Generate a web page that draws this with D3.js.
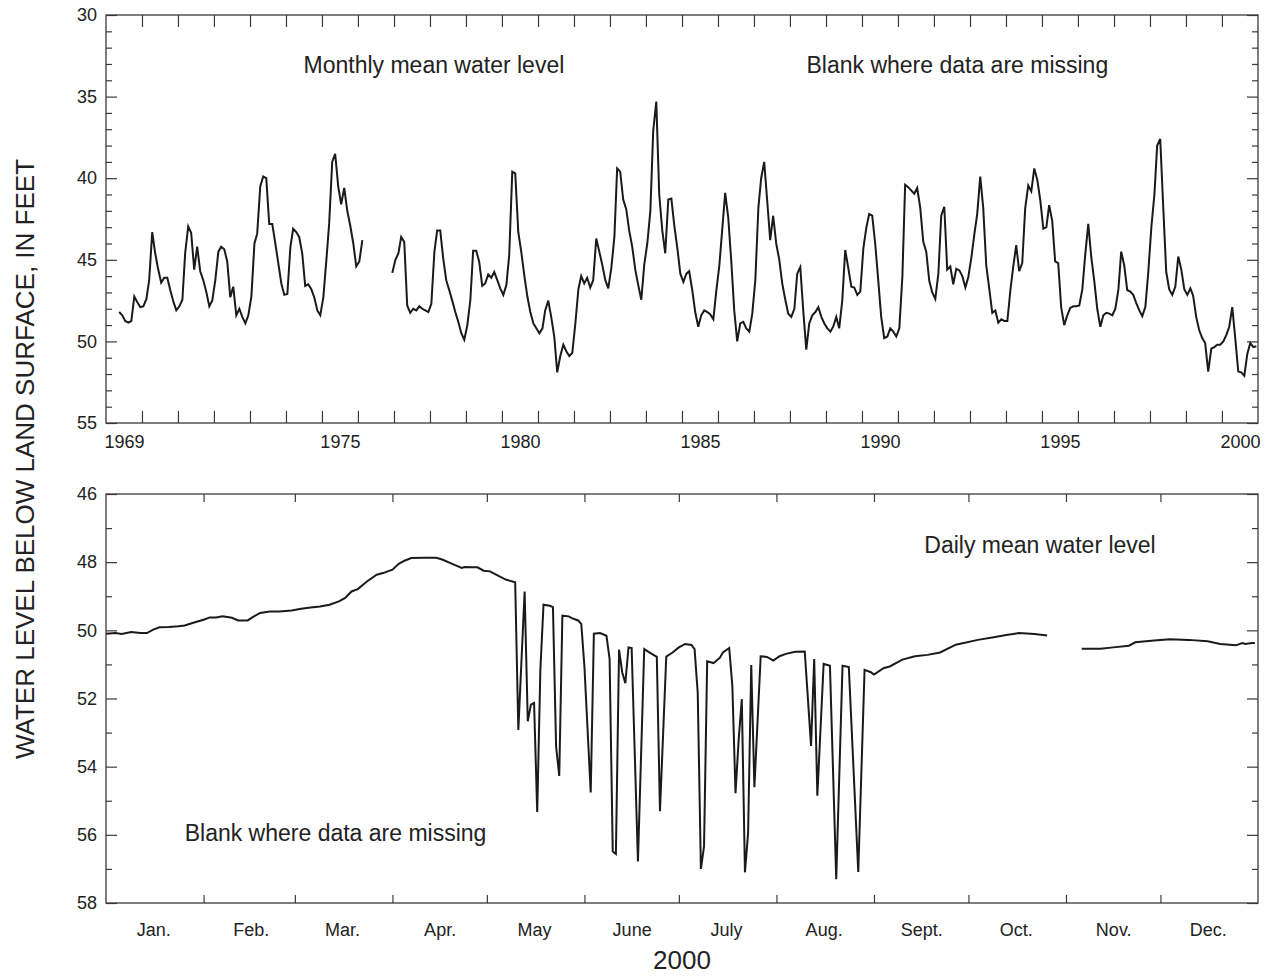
<!DOCTYPE html>
<html lang="en">

<head>
    <meta charset="UTF-8">
    <title>Water level below land surface</title>
    <script src="https://d3js.org/d3.v7.min.js"></script>
    <style>
        body {
            margin: 0;
            background: #fff;
            font-family: "Liberation Sans", Arial, sans-serif;
        }

        .frame {
            fill: none;
            stroke: #3a3a3a;
            stroke-width: 1.3;
        }

        .tick line {
            stroke: #3a3a3a;
            stroke-width: 1.2;
        }

        .tick text {
            fill: #222;
            font-size: 18px;
            font-family: "Liberation Sans", Arial, sans-serif;
        }

        .series {
            fill: none;
            stroke: #1a1a1a;
            stroke-width: 2;
        }

        .note {
            fill: #222;
            font-size: 23px;
        }

        .title {
            fill: #222;
            font-size: 26px;
        }
    </style>
</head>

<body>
    <div id="chart"></div>

    <script>
        // tick labels
        const yearLabels = [1969, 1975, 1980, 1985, 1990, 1995, 2000];
        const monthLabels = ['Jan.', 'Feb.', 'Mar.', 'Apr.', 'May', 'June', 'July', 'Aug.', 'Sept.', 'Oct.', 'Nov.', 'Dec.'];

        // monthly mean water level, feet below land surface, first value = May 1969
        const monthlyStart = [1969, 4];
        const monthlyLevels = [
            48.2, 48.4, 48.75, 48.85, 48.75, 47.25, 47.6, 47.9,
            47.85, 47.4, 46.25, 43.3, 44.6, 45.6, 46.4, 46.1, 46.1, 46.85, 47.55, 48.1,
            47.85, 47.45, 44.6, 42.95, 43.35, 45.6, 44.2, 45.7, 46.25, 46.95, 47.85, 47.5,
            46.25, 44.5, 44.2, 44.35, 45.1, 47.3, 46.65, 48.4, 48.0, 48.5, 48.9, 48.4,
            47.25, 44.0, 43.4, 40.5, 39.9, 40.0, 42.8, 42.8, 44.0, 45.2, 46.45, 47.15,
            47.1, 44.2, 43.1, 43.3, 43.6, 44.6, 46.6, 46.5, 46.8, 47.3, 48.1, 48.4,
            47.3, 45.0, 42.8, 39.0, 38.5, 40.5, 41.6, 40.6, 42.0, 42.9, 44.0, 45.4,
            45.1, 43.8, null, null, null, null, null, null, null, null, null, 45.8,
            45.0, 44.6, 43.6, 43.9, 47.8, 48.25, 48.0, 48.1, 47.85, 48.0, 48.1, 48.2,
            47.7, 44.5, 43.2, 43.2, 44.9, 46.25, 46.85, 47.5, 48.2, 48.8, 49.5, 49.9,
            49.0, 47.45, 44.45, 44.45, 45.1, 46.6, 46.45, 45.9, 46.1, 45.75, 46.25, 46.75,
            47.15, 46.55, 44.7, 39.6, 39.7, 43.3, 44.5, 45.95, 47.25, 48.2, 48.9, 49.2,
            49.5, 49.2, 48.1, 47.5, 48.5, 49.7, 51.9, 50.9, 50.2, 50.6, 50.9, 50.7,
            48.9, 46.8, 46.0, 46.45, 46.1, 46.7, 46.25, 43.7, 44.5, 45.3, 46.25, 46.75,
            45.5, 43.6, 39.4, 39.6, 41.3, 41.9, 43.2, 44.2, 45.6, 46.55, 47.45, 45.3,
            44.0, 42.0, 37.1, 35.3, 41.0, 43.2, 44.6, 41.3, 41.25, 42.9, 44.3, 45.85,
            46.35, 45.85, 45.7, 46.85, 48.2, 49.1, 48.4, 48.1, 48.2, 48.35, 48.65, 46.9,
            45.35, 43.0, 40.9, 42.4, 45.0, 48.1, 50.0, 48.9, 48.8, 49.2, 49.4, 48.3,
            46.25, 41.8, 40.0, 39.0, 41.35, 43.8, 42.3, 44.0, 45.0, 46.45, 47.45, 48.3,
            48.5, 48.0, 45.85, 45.45, 48.1, 50.5, 48.9, 48.4, 48.2, 47.9, 48.5, 48.9,
            49.2, 49.4, 49.1, 48.5, 49.2, 47.5, 44.4, 45.5, 46.65, 46.7, 47.15, 46.95,
            44.3, 43.0, 42.2, 42.3, 44.0, 46.25, 48.5, 49.8, 49.7, 49.2, 49.4, 49.7,
            49.2, 46.0, 40.4, 40.55, 40.75, 40.95, 40.6, 41.8, 43.9, 44.5, 46.3, 47.0,
            47.4, 45.85, 42.3, 41.75, 45.6, 45.4, 46.5, 45.55, 45.65, 46.0, 46.7, 46.05,
            44.85, 43.4, 42.2, 39.9, 41.8, 45.35, 46.75, 48.25, 48.1, 48.85, 48.65, 48.75,
            48.75, 46.85, 45.45, 44.1, 45.7, 45.2, 41.85, 40.45, 40.8, 39.4, 40.1, 41.35,
            43.1, 43.0, 41.65, 42.6, 45.1, 45.2, 47.9, 49.0, 48.4, 47.95, 47.85, 47.85,
            47.8, 46.8, 44.7, 42.8, 44.8, 46.3, 48.0, 49.1, 48.4, 48.25, 48.3, 48.4,
            48.0, 46.8, 44.5, 45.35, 46.85, 46.95, 47.15, 47.65, 48.1, 48.45, 47.9, 45.75,
            43.0, 41.0, 38.0, 37.6, 41.7, 45.75, 46.8, 47.15, 46.65, 44.8, 45.6, 46.8,
            47.15, 46.75, 47.2, 48.5, 49.3, 49.8, 50.1, 51.85, 50.45, 50.35, 50.2, 50.2,
            50.0, 49.6, 49.1, 47.9, 49.8, 51.85, 51.9, 52.1, 50.75, 50.1, 50.35, 50.3
        ];

        // daily mean water level in 2000: day of year and level (null = missing)
        const dailyDayOfYear = [
            1, 4, 6, 9, 12, 14, 16, 18, 21, 24, 26, 29, 32, 34, 36, 38, 41, 43, 46, 48,
            50, 53, 56, 60, 63, 66, 69, 72, 75, 77, 79, 81, 84, 87, 89, 92, 94, 96, 98, 102,
            106, 108, 111, 114, 115, 117, 119, 121, 123, 126, 128, 131, 132, 134, 135, 136, 137, 138, 139, 140,
            142, 143, 144, 145, 146, 148, 149, 151, 152, 153, 155, 156, 158, 160, 161, 162, 163, 164, 165, 166,
            167, 168, 170, 172, 174, 176, 177, 179, 181, 183, 185, 187, 188, 189, 190, 191, 192, 194, 196, 197,
            199, 200, 201, 202, 203, 204, 205, 206, 207, 209, 211, 213, 215, 217, 220, 223, 225, 226, 227, 229,
            231, 233, 235, 237, 240, 242, 244, 245, 248, 250, 253, 254, 258, 262, 266, 271, 278, 283, 287, 291,
            296, 300, 305, 311, 317, 321, 326, 328, 334, 339, 345, 351, 355, 360, 362, 363, 365, 366
        ];
        const dailyLevels = [
            50.10, 50.08, 50.11, 50.05, 50.08, 50.08, 49.98, 49.91, 49.90, 49.88, 49.86, 49.77, 49.69, 49.62, 49.62, 49.59, 49.63, 49.71, 49.71, 49.59,
            49.49, 49.45, 49.45, 49.42, 49.37, 49.33, 49.30, 49.25, 49.15, 49.05, 48.86, 48.79, 48.56, 48.37, 48.32, 48.22, 48.05, 47.95, 47.88, 47.87,
            47.87, 47.93, 48.05, 48.17, 48.14, 48.15, 48.15, 48.25, 48.27, 48.42, 48.51, 48.59, 52.92, 48.86, 52.67, 52.18, 52.13, 55.33, 51.16, 49.25,
            49.28, 49.32, 53.41, 54.27, 49.57, 49.59, 49.64, 49.71, 49.81, 51.06, 54.76, 50.10, 50.08, 50.16, 50.84, 56.49, 56.56, 50.57, 51.23, 51.55,
            50.50, 50.52, 56.78, 50.55, 50.67, 50.78, 55.31, 50.77, 50.65, 50.50, 50.40, 50.43, 50.55, 51.84, 57.00, 56.34, 50.91, 50.96, 50.81, 50.65,
            50.52, 51.64, 54.78, 53.21, 52.02, 57.10, 55.95, 51.02, 54.60, 50.76, 50.78, 50.89, 50.76, 50.69, 50.63, 50.62, 53.39, 50.84, 54.85, 50.98,
            51.04, 57.30, 51.04, 51.08, 57.09, 51.16, 51.23, 51.30, 51.11, 51.06, 50.91, 50.86, 50.76, 50.72, 50.65, 50.42, 50.28, 50.20, 50.14, 50.08,
            50.11, 50.15, null, 50.54, 50.54, 50.50, 50.45, 50.35, 50.30, 50.26, 50.28, 50.32, 50.40, 50.44, 50.37, 50.40, 50.37, 50.37
        ];

        const width = 1270;
        const height = 976;
        const left = 106, right = 1258;

        const svg = d3.select('#chart')
            .append('svg')
            .attr('width', width)
            .attr('height', height);

        // scales
        const xYears = d3.scaleTime()
            .domain([new Date(1969, 0, 1), new Date(2001, 0, 1)])
            .range([left, right]);
        const yTop = d3.scaleLinear().domain([30, 55]).range([15, 423]);

        const xDays = d3.scaleTime()
            .domain([new Date(2000, 0, 1), new Date(2001, 0, 1)])
            .range([left, right]);
        const yBottom = d3.scaleLinear().domain([46, 58]).range([494, 903]);

        function drawYAxes(y, majors, minors) {
            svg.append('g')
                .attr('transform', `translate(${left},0)`)
                .call(d3.axisLeft(y).tickValues(majors).tickSize(-11).tickPadding(9))
                .call(g => g.select('.domain').remove());
            svg.append('g')
                .attr('transform', `translate(${left},0)`)
                .call(d3.axisLeft(y).tickValues(minors).tickSize(-6).tickFormat(''))
                .call(g => g.select('.domain').remove());
            svg.append('g')
                .attr('transform', `translate(${right},0)`)
                .call(d3.axisRight(y).tickValues(majors).tickSize(-11).tickFormat(''))
                .call(g => g.select('.domain').remove());
            svg.append('g')
                .attr('transform', `translate(${right},0)`)
                .call(d3.axisRight(y).tickValues(minors).tickSize(-6).tickFormat(''))
                .call(g => g.select('.domain').remove());
        }

        function drawXTicks(x, y, values, size) {
            const yb = d3.max(y.range()), yt = d3.min(y.range());
            svg.append('g')
                .attr('transform', `translate(0,${yb})`)
                .call(d3.axisBottom(x).tickValues(values).tickSize(-size).tickFormat(''))
                .call(g => g.select('.domain').remove());
            svg.append('g')
                .attr('transform', `translate(0,${yt})`)
                .call(d3.axisTop(x).tickValues(values).tickSize(-size).tickFormat(''))
                .call(g => g.select('.domain').remove());
        }

        function drawXLabels(x, y, dates, labels, padding) {
            const yb = d3.max(y.range());
            svg.append('g')
                .attr('transform', `translate(0,${yb})`)
                .call(d3.axisBottom(x).tickValues(dates).tickSize(0).tickPadding(padding)
                    .tickFormat((d, i) => labels[i]))
                .call(g => g.select('.domain').remove());
        }

        // ---- top panel: monthly means 1969-2000 ----
        const monthly = monthlyLevels.map((v, i) => ({
            date: new Date(monthlyStart[0], monthlyStart[1] + i, 15),
            value: v
        }));

        drawYAxes(yTop, d3.range(30, 56, 5), d3.range(30, 56).filter(v => v % 5 !== 0));
        drawXTicks(xYears, yTop, d3.timeYear.range(new Date(1970, 0, 1), new Date(2001, 0, 1)), 12);
        drawXLabels(xYears, yTop, yearLabels.map(yr => new Date(yr, 6, 2)), yearLabels, 12);

        svg.append('path')
            .datum(monthly)
            .attr('class', 'series')
            .attr('d', d3.line()
                .defined(d => d.value !== null)
                .x(d => xYears(d.date))
                .y(d => yTop(d.value)));

        svg.append('rect')
            .attr('class', 'frame')
            .attr('x', left).attr('y', yTop(30))
            .attr('width', right - left).attr('height', yTop(55) - yTop(30));

        // ---- bottom panel: daily means 2000 ----
        const daily = dailyDayOfYear.map((d, i) => ({
            date: new Date(2000, 0, d),
            value: dailyLevels[i]
        }));

        drawYAxes(yBottom, d3.range(46, 59, 2), d3.range(47, 58, 2));
        drawXTicks(xDays, yBottom, d3.timeMonth.range(new Date(2000, 1, 1), new Date(2001, 0, 1)), 8);
        drawXLabels(xDays, yBottom, monthLabels.map((m, i) => new Date(2000, i, 16)), monthLabels, 20);

        svg.append('path')
            .datum(daily)
            .attr('class', 'series')
            .attr('d', d3.line()
                .defined(d => d.value !== null)
                .x(d => xDays(d.date))
                .y(d => yBottom(d.value)));

        svg.append('rect')
            .attr('class', 'frame')
            .attr('x', left).attr('y', yBottom(46))
            .attr('width', right - left).attr('height', yBottom(58) - yBottom(46));

        // ---- annotations ----
        svg.append('text').attr('class', 'note')
            .attr('x', xYears(new Date(1974, 5, 28))).attr('y', yTop(33.57))
            .text('Monthly mean water level');
        svg.append('text').attr('class', 'note')
            .attr('x', xYears(new Date(1988, 5, 17))).attr('y', yTop(33.57))
            .text('Blank where data are missing');
        svg.append('text').attr('class', 'note')
            .attr('x', xDays(new Date(2000, 8, 17))).attr('y', yBottom(47.73))
            .text('Daily mean water level');
        svg.append('text').attr('class', 'note')
            .attr('x', xDays(new Date(2000, 0, 26))).attr('y', yBottom(56.17))
            .text('Blank where data are missing');

        // ---- axis titles ----
        svg.append('text').attr('class', 'title')
            .attr('x', (left + right) / 2).attr('y', 969)
            .attr('text-anchor', 'middle')
            .text('2000');

        svg.append('text').attr('class', 'title')
            .attr('transform', `translate(34,${(yTop(30) + yBottom(58)) / 2}) rotate(-90)`)
            .attr('text-anchor', 'middle')
            .text('WATER LEVEL BELOW LAND SURFACE, IN FEET');
    </script>
</body>

</html>
